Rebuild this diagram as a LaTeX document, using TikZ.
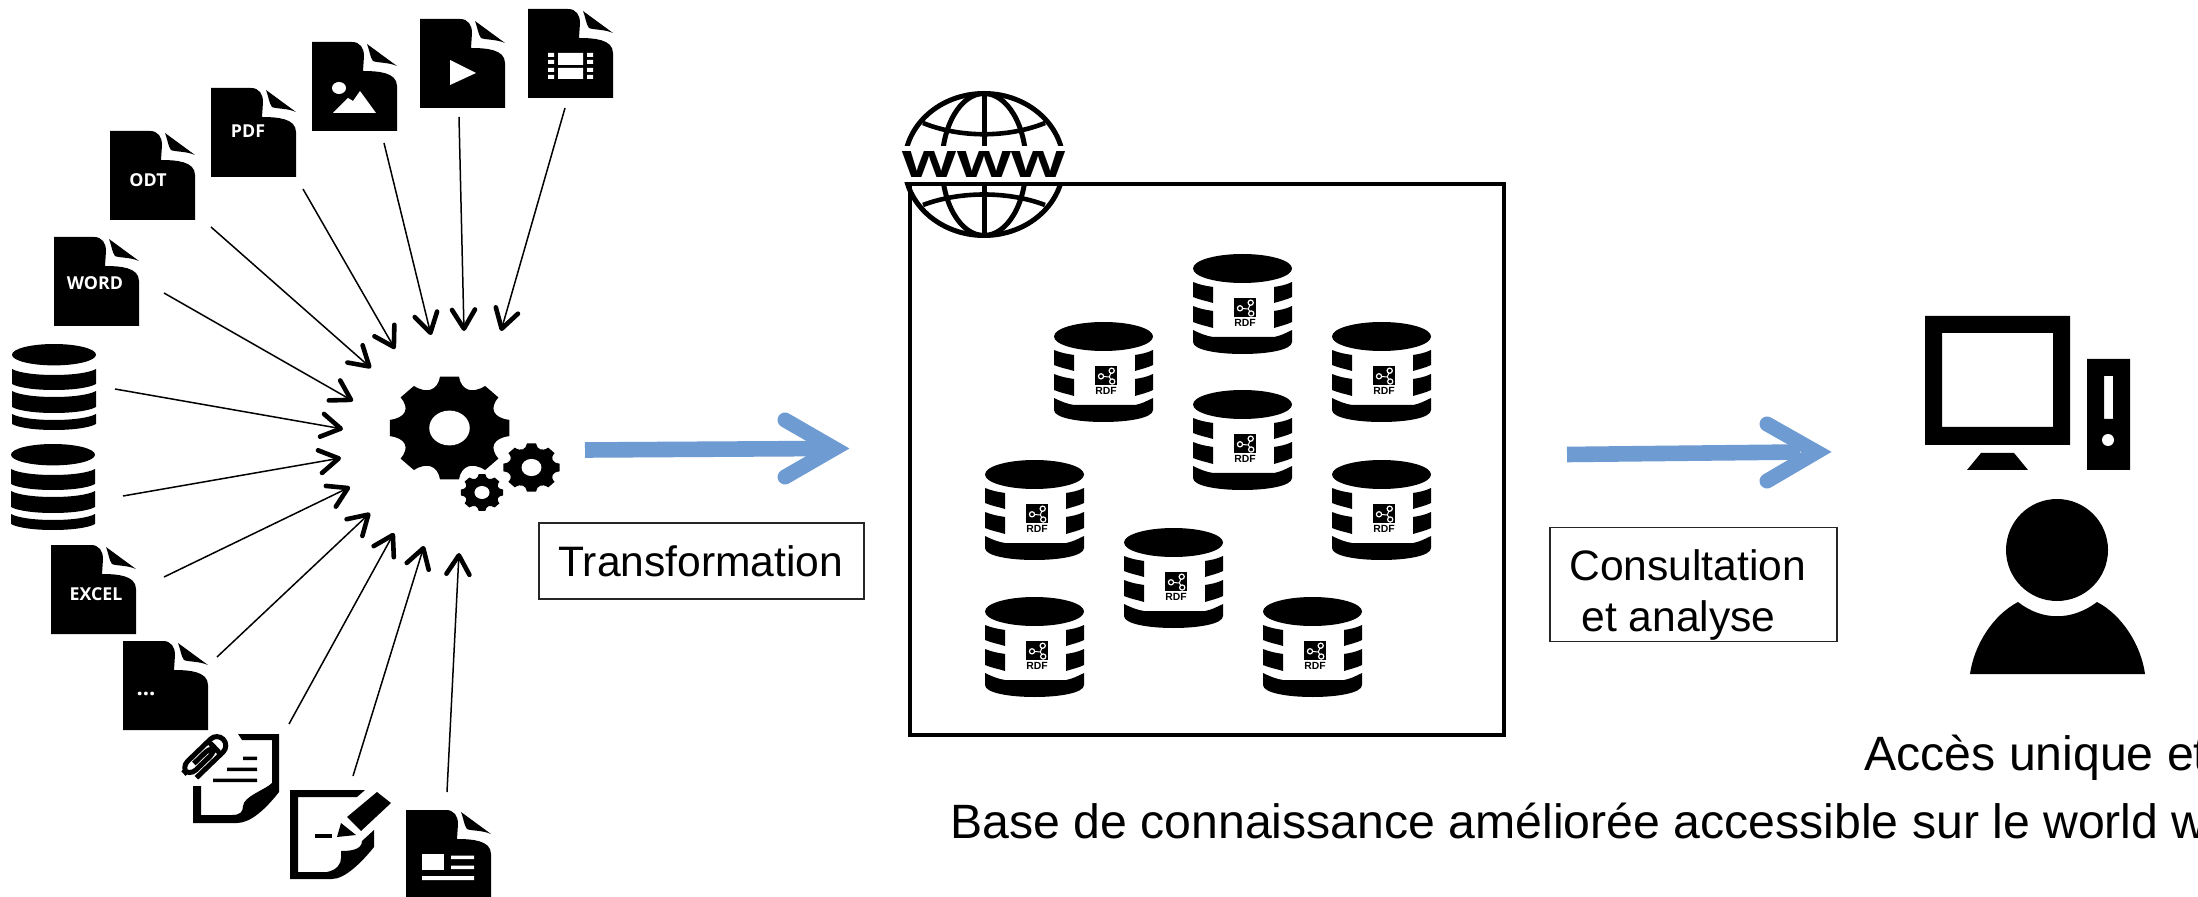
\documentclass[tikz,border=0pt]{standalone}
\usepackage{fontspec}
\usepackage{graphicx}
\setmainfont{Liberation Sans}
\newfontfamily\iconfont{Open Sans}
\usetikzlibrary{arrows.meta}
\definecolor{flowblue}{HTML}{6E9BD2}
\tikzset{
  feed/.style={line width=0.75pt,-{Straight Barb[length=9.5pt,width=11.5pt,line width=2.3pt,round]}},
  flowshaft/.style={flowblue,line width=7.8pt},
  flowhead/.style={flowblue,line width=7.5pt,line cap=round,miter limit=20},
  notebox/.style={draw=black!85,line width=0.6pt,fill=white},
  caption/.style={inner sep=0pt,anchor=base west,font=\fontsize{21.3pt}{24pt}\selectfont},
  longcaption/.style={inner sep=0pt,anchor=base west,font=\fontsize{24.1pt}{26pt}\selectfont},
  doctext/.style={inner sep=0pt,text=white,font=\iconfont\bfseries\fontsize{8.9pt}{9pt}\selectfont},
  pics/docicon/.style={code={
    \fill (0,0) -- (40,0) .. controls (48,0) and (52,6) .. (52,14) -- (51,29)
      .. controls (65,29) and (85,30) .. (85,44) -- (85,89) -- (0,89) -- cycle;
    \fill (55,2) -- (85,24) .. controls (76,20) and (65,21) .. (61,19)
      .. controls (58,15) and (58,10) .. (55,2) -- cycle;
  }},
  pics/dbcyl/.style={code={
    \fill (42,10.7) ellipse [x radius=42,y radius=10.7];
    \foreach \u/\l in {25/40,47/63,70/80}{
      \fill (0,\u) .. controls (14,\u+8) and (70,\u+8) .. (84,\u) -- (84,\l)
        .. controls (70,\l+8) and (14,\l+8) .. (0,\l) -- cycle;
    }
  }},
  pics/rdfcyl/.style={code={
    \fill (49.5,14.5) ellipse [x radius=49.5,y radius=14.5];
    \foreach \u/\l in {28/43,52/68}{
      \fill (0,\u) .. controls (7,\u+3) and (14,\u+4) .. (20,\u+5) -- (20,\l+6)
        .. controls (14,\l+4) and (7,\l+3) .. (0,\l) -- cycle;
      \fill (99,\u) .. controls (93,\u+3) and (87,\u+4) .. (81,\u+5) -- (81,\l+6)
        .. controls (87,\l+4) and (93,\l+3) .. (99,\l) -- cycle;
    }
    \fill (0,76) .. controls (6,79) and (13,82) .. (20,83) -- (81,83)
      .. controls (87,82) and (93,79) .. (99,76) -- (99,88)
      .. controls (99,104) and (0,104) .. (0,88) -- cycle;
    \fill (41,44) rectangle (63,63);
    \draw[white,line width=0.5pt] (47,54.3) -- (55.3,55) -- (57.7,48.7) (55.3,55) -- (58.2,59.5);
    \foreach \p in {(57.7,48.7),(47,54.3),(58.2,59.5)}{
      \filldraw[fill=black,draw=white,line width=0.6pt] \p circle [radius=2.6];
    }
    \node[inner sep=0pt,font=\bfseries\fontsize{5.2pt}{6pt}\selectfont] (-label) at (52,68.5) {RDF};
  }},
}
\newcommand{\gearshape}[5]{% cx cy rx ry holeratio
  \begin{scope}[shift={(#1,#2)},xscale=#3,yscale=#4]
    \fill[line join=round] (-9:1)
      \foreach \a in {0,45,...,315}{
        -- (\a-9:1) -- (\a+9:1)
        .. controls (\a+15:.75) and (\a+30:.75) .. (\a+36:1)
      } -- cycle;
    \fill[white] (0,0) circle [radius=#5];
  \end{scope}
}
\begin{document}
\begin{tikzpicture}[x=0.5pt,y=-0.5pt]
\useasboundingbox (0,0) rectangle (2198,897);
\fill[white] (0,0) rectangle (2198,897);
\clip (0,0) rectangle (2198,897);

% ----- document icons
\pic at (54,237) {docicon};
\node[doctext] (word) at (95,283) {WORD};
\pic at (110,131) {docicon};
\node[doctext] (odt) at (148,180) {ODT};
\pic at (211,88) {docicon};
\node[doctext] (pdf) at (248,131) {PDF};
\pic at (312,42) {docicon};
\fill[white] (339,88) ellipse [x radius=7,y radius=6];
\fill[white] (333,113) -- (348,98) -- (353,101) -- (360,91) -- (376,113) -- cycle;
\pic at (420,19) {docicon};
\fill[white] (450,60) -- (476,73) -- (450,85) -- cycle;
\pic at (528,9) {docicon};
\fill[white] (558,53) rectangle (583,65) (558,68) rectangle (583,79);
\foreach \y in {53,60,68,75}{
  \fill[white] (548,\y) rectangle (554,\y+4) (587,\y) rectangle (593,\y+4);
}
\pic at (51,545) {docicon};
\node[doctext] (excel) at (96,594) {EXCEL};
\pic at (123,641) {docicon};
\node[inner sep=0pt,text=white,font=\iconfont\bfseries\fontsize{11pt}{11pt}\selectfont] (more) at (146,694) {...};
\pic at (406,810) {docicon};
\fill[white] (422,854) rectangle (444,870);
\fill[white] (451,855.5) rectangle (474,859) (451,865.5) rectangle (474,869) (422,876) rectangle (474,880);

% ----- databases
\pic at (12,344) {dbcyl};
\pic at (11,444) {dbcyl};

% ----- attachment document
\fill (238,734) -- (279,734) -- (279,792) .. controls (265,810) and (250,823) .. (237,823)
  -- (193,823) -- (193,786) -- (201,786) -- (201,815) -- (232,815)
  .. controls (240,815) and (243,812) .. (243,806) .. controls (244,796) and (265,790) .. (272,783)
  -- (272,740) -- (242,740) -- cycle;
\fill (243,756.5) rectangle (257,760) (227,767.5) rectangle (257,771) (213,778.5) rectangle (257,782);
\begin{scope}[shift={(206,756)},rotate=44]
  \draw[white,line width=5pt,line join=round,rounded corners=4.5pt]
    (-22,9) -- (24,9) -- (24,-9) -- (-26,-9) -- (-26,3) -- (12,3) -- (12,-3) -- (-14,-3);
  \draw[line width=2.5pt,rounded corners=4.5pt]
    (-22,9) -- (24,9) -- (24,-9) -- (-26,-9) -- (-26,3) -- (12,3) -- (12,-3) -- (-14,-3);
\end{scope}

% ----- pencil document
\fill (290,790) -- (365,790) -- (357,797) -- (298,797) -- (298,872) -- (327,872)
  .. controls (337,870) and (341,864) .. (341,858) -- (341,851)
  .. controls (350,851) and (362,850) .. (362,841) -- (374,830) -- (374,847)
  .. controls (362,862) and (345,879) .. (332,879) -- (290,879) -- cycle;
\fill (315,834.3) rectangle (332,837.7);
\fill (377,792) -- (391,803) -- (361,831) -- (347,817) -- cycle;
\fill (341,823) -- (356,835) -- (337,837) -- cycle;

% ----- gears
\gearshape{449.5}{428}{60.5}{52}{0.335}
\gearshape{531.5}{467.5}{28.5}{24.5}{0.35}
\gearshape{482}{492.5}{21.5}{18.5}{0.35}

% ----- feeding connectors
\foreach \n/\sx/\sy/\tx/\ty in {
  film/565/108/501/331, video/459/117/464/331, picture/384/143/431/335,
  pdfdoc/303/189/395/349, odtdoc/211/227/371/368, worddoc/164/293/353/401,
  dbone/115/389/343/429, dbtwo/123/496/341/458, exceldoc/164/577/350/487,
  moredoc/217/657/370/513, clipdoc/289/724/394/533, pendoc/353/776/424/546,
  newsdoc/447/792/459/553}{
  \coordinate (\n-out) at (\sx,\sy);
  \coordinate (\n-in) at (\tx,\ty);
  \draw[feed] (\n-out) -- (\n-in);
}

% ----- transformation arrow and label
\coordinate (ta) at (585,450);
\coordinate (tb) at (826,448.5);
\coordinate (tu) at (785,420);
\coordinate (tv) at (834.4,448.5);
\coordinate (tw) at (785,477);
\draw[flowshaft] (ta) -- (tb);
\draw[flowhead] (tu) -- (tv) -- (tw);
\node[notebox,minimum width=162.5pt,minimum height=38pt,inner sep=0pt] (tbox) at (701.5,561) {};
\node[caption] (tlabel) at (558,576) {Transformation};

% ----- globe
\foreach \a/\b in {88/146,183/240}{
  \begin{scope}
    \clip (895,\a) rectangle (1075,\b);
    \draw[line width=2.5pt] (984,164.5) ellipse [x radius=79.5,y radius=71];
    \draw[line width=2.5pt] (984,164.5) ellipse [x radius=42,y radius=71];
    \draw[line width=2.5pt] (984,92) -- (984,237);
    \draw[line width=2.3pt] (923,123) .. controls (960,138) and (1008,138) .. (1045,123);
    \draw[line width=2.3pt] (923,205) .. controls (960,191) and (1008,191) .. (1045,205);
  \end{scope}
}
\node[inner sep=0pt] (www) at (984,165) {\resizebox{81pt}{13pt}{\bfseries www}};

% ----- web frame
\node[draw=black,line width=1.8pt,minimum width=297pt,minimum height=275.5pt,inner sep=0pt] (web) at (1207,459.5) {};

% ----- RDF stores
\pic (a) at (1054,322) {rdfcyl};
\pic (b) at (1193,254) {rdfcyl};
\pic (c) at (1332,322) {rdfcyl};
\pic (d) at (1193,390) {rdfcyl};
\pic (e) at (985,460) {rdfcyl};
\pic (f) at (1332,460) {rdfcyl};
\pic (g) at (1124,528) {rdfcyl};
\pic (h) at (985,597) {rdfcyl};
\pic (i) at (1263,597) {rdfcyl};

% ----- consultation arrow and label
\coordinate (ca) at (1567,454.5);
\coordinate (cb) at (1800,452);
\coordinate (cu) at (1767,424);
\coordinate (cv) at (1816.5,452);
\coordinate (cw) at (1767,481);
\draw[flowshaft] (ca) -- (cb);
\draw[flowhead] (cu) -- (cv) -- (cw);
\node[notebox,minimum width=143.5pt,minimum height=57pt,inner sep=0pt] (cbox) at (1693.5,584.5) {};
\node[caption] (clabela) at (1569,580) {Consultation};
\node[caption] (clabelb) at (1581,631.5) {et analyse};

% ----- computer
\fill[even odd rule] (1925,316) rectangle (2070,445) (1942,333) rectangle (2053,427);
\fill (1981,453) -- (2014,453) -- (2028,470) -- (1967,470) -- cycle;
\fill[even odd rule] (2087,359) rectangle (2130,470) (2104,376) rectangle (2113,419);
\fill[white] (2108,440) circle [radius=6];

% ----- person
\fill (2057,550) circle [radius=51];
\fill (2018,602) .. controls (2042,621) and (2072,621) .. (2097,602)
  .. controls (2122,615) and (2141,645) .. (2145,674) -- (1970,674)
  .. controls (1974,645) and (1993,615) .. (2018,602) -- cycle;

% ----- bottom captions
\node[longcaption] (access) at (1864,770) {Accès unique et};
\node[longcaption] (base) at (950,838) {Base de connaissance améliorée accessible sur le world w};
\end{tikzpicture}
\end{document}
